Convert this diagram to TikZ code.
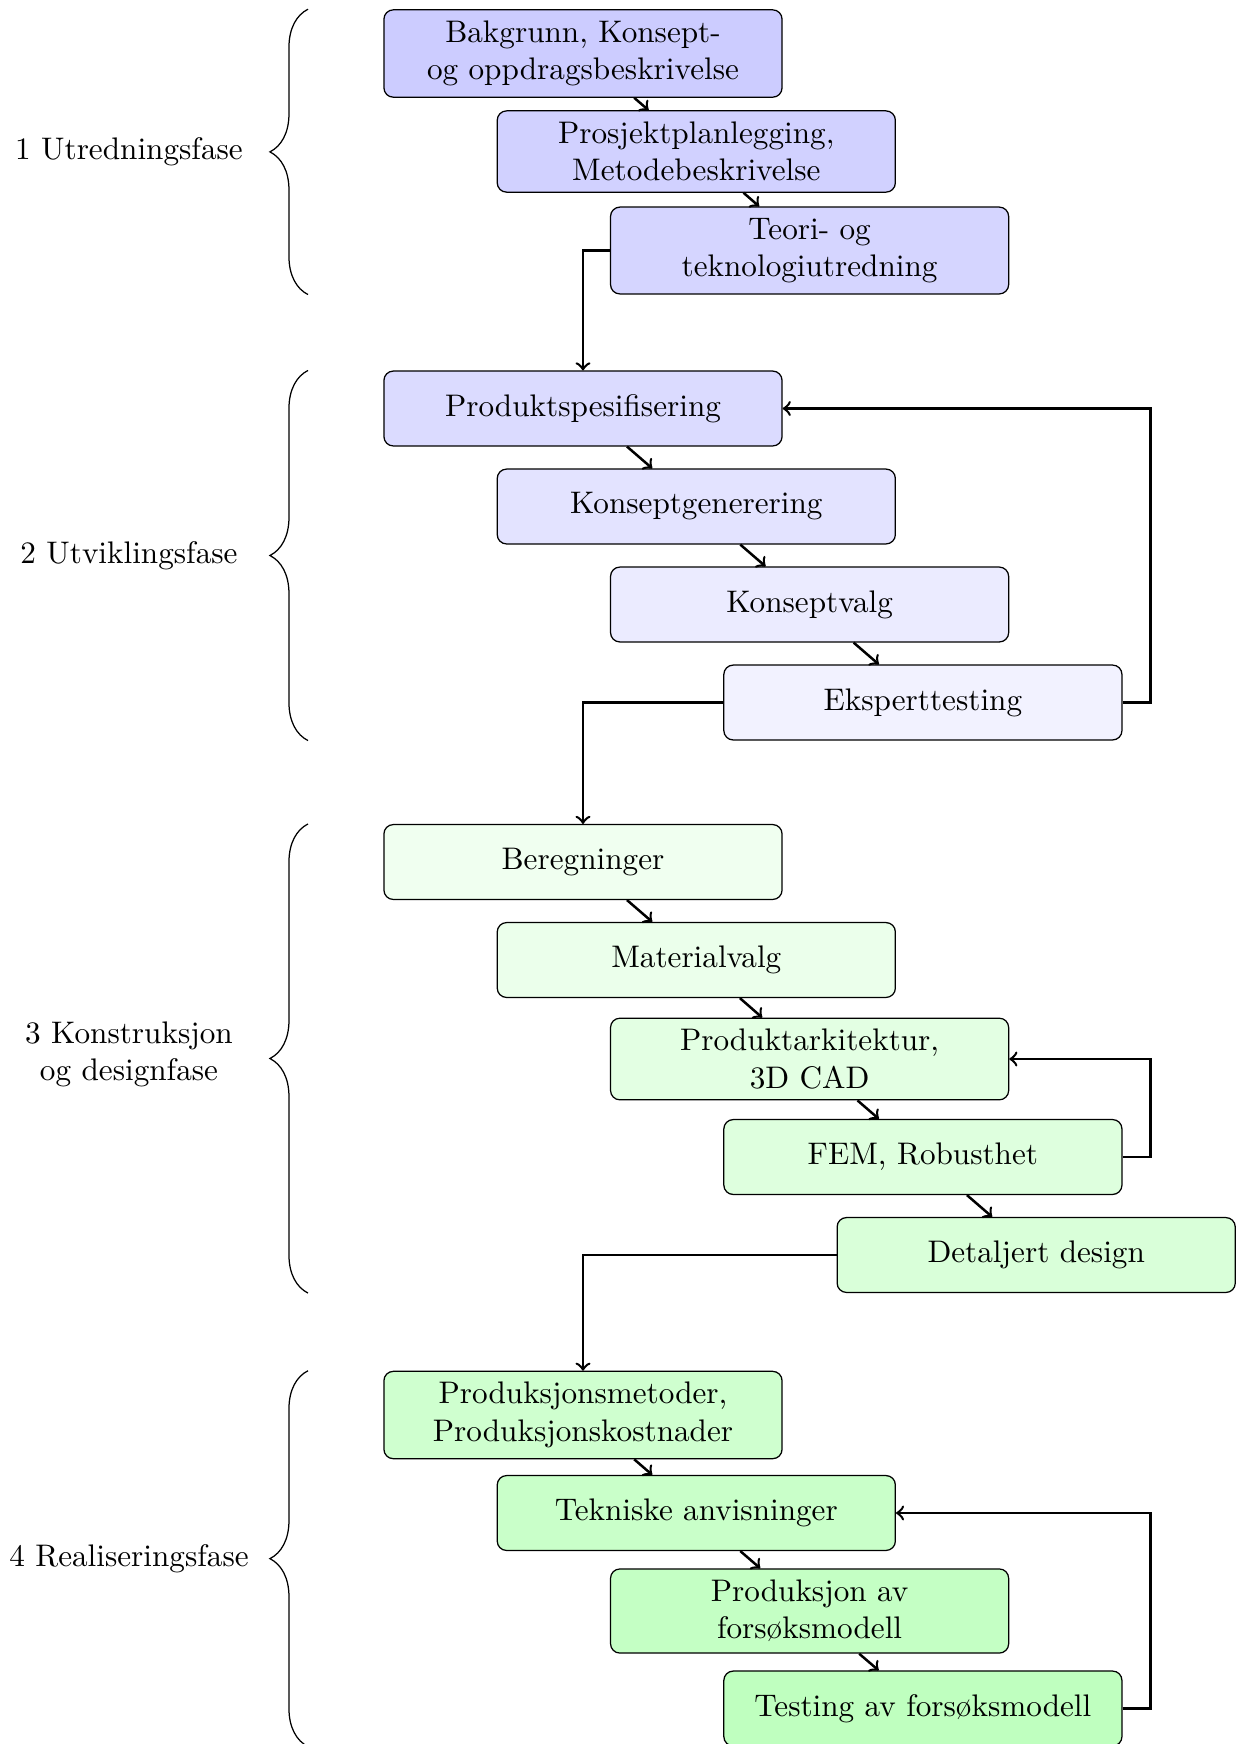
\documentclass[tikz,border=0pt]{standalone}
\usetikzlibrary{decorations.pathreplacing}
\begin{document}
\begin{tikzpicture}[x=0.3205pt,y=-0.3205pt,
  stepbox/.style={draw, rounded corners=3pt, align=center, inner xsep=3pt, inner ysep=3.5pt,
    minimum width=127.6pt, minimum height=24pt},
  link/.style={thick,->},
  phasebrace/.style={decorate, decoration={brace, amplitude=12.2pt}},
  phaselabel/.style={align=center}
]
\useasboundingbox (0,0) rectangle (1239,1744);

% column positions of the staircase
\def\ca{583}\def\cb{696.3}\def\cc{809.6}\def\cd{922.9}\def\ce{1036.2}

% 1 Utredningsfase
\node[stepbox, fill=blue!20]   (b1) at (\ca,53.5)  {Bakgrunn, Konsept-\\og oppdragsbeskrivelse};
\node[stepbox, fill=blue!18]   (b2) at (\cb,151.5) {Prosjektplanlegging,\\Metodebeskrivelse};
\node[stepbox, fill=blue!16.5] (b3) at (\cc,250.5) {Teori- og\\teknologiutredning};

% 2 Utviklingsfase
\node[stepbox, fill=blue!14] (b4) at (\ca,408.5) {Produktspesifisering};
\node[stepbox, fill=blue!11] (b5) at (\cb,506.5) {Konseptgenerering};
\node[stepbox, fill=blue!8]  (b6) at (\cc,604.5) {Konseptvalg};
\node[stepbox, fill=blue!5]  (b7) at (\cd,702.5) {Eksperttesting};

% 3 Konstruksjon og designfase
\node[stepbox, fill=green!6]  (b8)  at (\ca,862)  {Beregninger};
\node[stepbox, fill=green!8]  (b9)  at (\cb,960)  {Materialvalg};
\node[stepbox, fill=green!11] (b10) at (\cc,1059) {Produktarkitektur,\\3D CAD};
\node[stepbox, fill=green!13] (b11) at (\cd,1157) {FEM, Robusthet};
\node[stepbox, fill=green!15] (b12) at (\ce,1255) {Detaljert design};

% 4 Realiseringsfase
\node[stepbox, fill=green!19] (b13) at (\ca,1415) {Produksjonsmetoder,\\Produksjonskostnader};
\node[stepbox, fill=green!21] (b14) at (\cb,1513) {Tekniske anvisninger};
\node[stepbox, fill=green!23] (b15) at (\cc,1611) {Produksjon av\\forsøksmodell};
\node[stepbox, fill=green!25] (b16) at (\cd,1708.5) {Testing av forsøksmodell};

% flow inside and between the phases
\draw[link] (b1) -- (b2);
\draw[link] (b2) -- (b3);
\draw[link] (b3.west) -| (b4.north);
\draw[link] (b4) -- (b5);
\draw[link] (b5) -- (b6);
\draw[link] (b6) -- (b7);
\draw[link] (b7.west) -| (b8.north);
\draw[link] (b8) -- (b9);
\draw[link] (b9) -- (b10);
\draw[link] (b10) -- (b11);
\draw[link] (b11) -- (b12);
\draw[link] (b12.west) -| (b13.north);
\draw[link] (b13) -- (b14);
\draw[link] (b14) -- (b15);
\draw[link] (b15) -- (b16);

% feedback loops
\draw[link] (b7.east) -- ++(28,0) |- (b4.east);
\draw[link] (b11.east) -- ++(28,0) |- (b10.east);
\draw[link] (b16.east) -- ++(28,0) |- (b14.east);

% phase braces and their labels
\coordinate (bx) at (308,0);
\coordinate (lx) at (129,0);
\draw[phasebrace] (b3.south -| bx) -- (b1.north -| bx) coordinate[midway] (m1);
\draw[phasebrace] (b7.south -| bx) -- (b4.north -| bx) coordinate[midway] (m2);
\draw[phasebrace] (b12.south -| bx) -- (b8.north -| bx) coordinate[midway] (m3);
\draw[phasebrace] (b16.south -| bx) -- (b13.north -| bx) coordinate[midway] (m4);

\node[phaselabel] (p1) at (m1 -| lx) {1 Utredningsfase};
\node[phaselabel] (p2) at (m2 -| lx) {2 Utviklingsfase};
\node[phaselabel, yshift=1.3pt] (p3) at (m3 -| lx) {3 Konstruksjon\\og designfase};
\node[phaselabel] (p4) at (m4 -| lx) {4 Realiseringsfase};
\end{tikzpicture}
\end{document}
